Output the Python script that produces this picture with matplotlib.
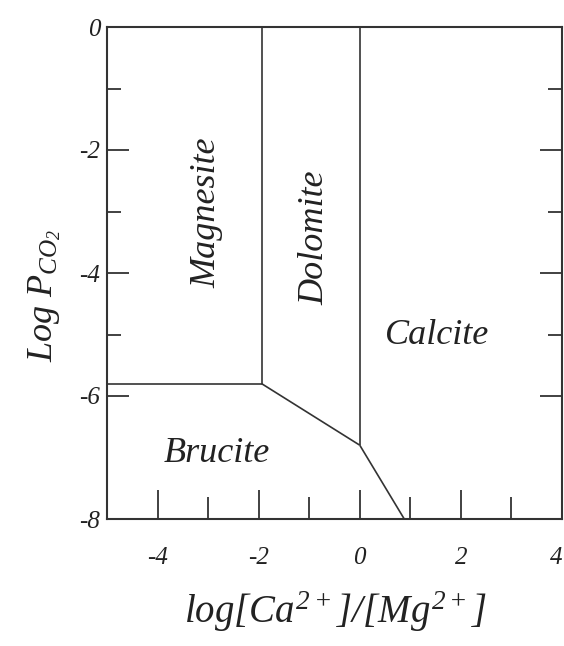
import matplotlib
matplotlib.use("Agg")
import matplotlib.pyplot as plt
from matplotlib.ticker import FixedLocator, FixedFormatter, NullFormatter

plt.rcParams['font.family'] = ['Liberation Serif', 'DejaVu Serif']
plt.rcParams['font.style'] = 'italic'
plt.rcParams['mathtext.fontset'] = 'custom'
plt.rcParams['mathtext.rm'] = 'Liberation Serif'
plt.rcParams['mathtext.it'] = 'Liberation Serif:italic'
plt.rcParams['axes.unicode_minus'] = False

# ---- data ----
x_major = [-4, -2, 0, 2, 4]
x_major_labels = ["-4", "-2", "0", "2", "4"]
x_minor = [-3, -1, 1, 3]
y_major = [0, -2, -4, -6, -8]
y_major_labels = ["0", "-2", "-4", "-6", "-8"]
y_minor = [-1, -3, -5]

# phase boundaries
magnesite_brucite_x = [-5.0, -1.94]
magnesite_brucite_y = [-5.8, -5.8]
magnesite_dolomite_x = [-1.94, -1.94]
magnesite_dolomite_y = [-5.8, 0.0]
dolomite_calcite_x = [0.0, 0.0]
dolomite_calcite_y = [-6.8, 0.0]
dolomite_brucite_x = [-1.94, 0.0]
dolomite_brucite_y = [-5.8, -6.8]
calcite_brucite_x = [0.0, 0.88]
calcite_brucite_y = [-6.8, -8.0]

field_names = ["Magnesite", "Dolomite", "Calcite", "Brucite"]
field_x = [-3.03, -0.89, 1.53, -2.83]
field_y = [-3.02, -3.43, -5.02, -6.94]
field_rot = [90, 90, 0, 0]

lc = '#333333'
tc = '#222222'

fig = plt.figure(figsize=(5.64, 6.46), dpi=100)
ax = fig.add_axes([107/564, 1-519/646, 455/564, 492/646])

for xs, ys in [(magnesite_brucite_x, magnesite_brucite_y),
               (magnesite_dolomite_x, magnesite_dolomite_y),
               (dolomite_calcite_x, dolomite_calcite_y),
               (dolomite_brucite_x, dolomite_brucite_y),
               (calcite_brucite_x, calcite_brucite_y)]:
    ax.plot(xs, ys, color=lc, lw=1.2, solid_capstyle='butt')

for name, fx, fy, r in zip(field_names, field_x, field_y, field_rot):
    ax.text(fx, fy, name, rotation=r, ha='center', va='center',
            fontsize=26, style='italic', color=tc)

ax.set_xlim(-5, 4)
ax.set_ylim(-8, 0)

for s in ax.spines.values():
    s.set_color(lc)
    s.set_linewidth(1.5)

ax.xaxis.set_major_locator(FixedLocator(x_major))
ax.xaxis.set_major_formatter(FixedFormatter(x_major_labels))
ax.xaxis.set_minor_locator(FixedLocator(x_minor))
ax.xaxis.set_minor_formatter(NullFormatter())
ax.yaxis.set_major_locator(FixedLocator(y_major))
ax.yaxis.set_major_formatter(FixedFormatter(y_major_labels))
ax.yaxis.set_minor_locator(FixedLocator(y_minor))
ax.yaxis.set_minor_formatter(NullFormatter())

ax.tick_params(axis='x', which='major', direction='in', length=21, width=1.3,
               color=lc, pad=20, labelsize=18, top=False, bottom=True,
               labelcolor=tc)
ax.tick_params(axis='x', which='minor', direction='in', length=16, width=1.3,
               color=lc, top=False, bottom=True)
ax.tick_params(axis='y', which='major', direction='in', length=16, width=1.3,
               color=lc, pad=5, labelsize=18, left=True, right=True,
               labelcolor=tc)
ax.tick_params(axis='y', which='minor', direction='in', length=10, width=1.3,
               color=lc, left=True, right=True)

# keep the last x tick label inside the figure
ax.xaxis.get_major_ticks()[-1].label1.set_horizontalalignment('right')

ax.set_xlabel(r'$log[Ca^{2+}]/[Mg^{2+}]$', fontsize=28, color=tc)
ax.xaxis.set_label_coords(0.503, -0.143)
ax.set_ylabel(r'$Log\ P_{\mathrm{CO}_2}$', fontsize=26, color=tc)
ax.yaxis.set_label_coords(-0.097, 0.455)

fig.savefig('out.png', dpi=100)
